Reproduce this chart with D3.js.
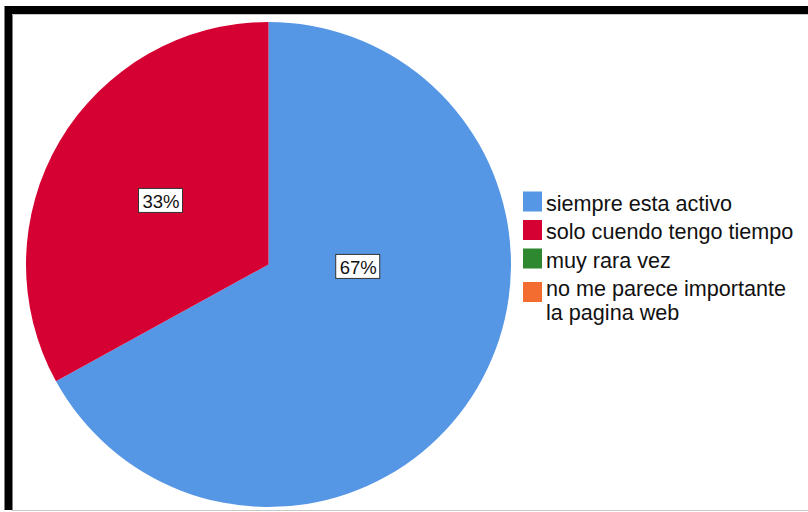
<!DOCTYPE html>
<html>
<head>
<meta charset="utf-8">
<script src="https://cdn.jsdelivr.net/npm/d3@7"></script>
<style>
  html, body { margin: 0; padding: 0; background: #fff; }
  svg { display: block; }
  text { font-family: "Liberation Sans", Arial, sans-serif; fill: #111; }
</style>
</head>
<body>
<svg id="chart" width="808" height="512"></svg>
<script>
// Response categories and their share of answers (percent)
const categories = [
  "siempre esta activo",
  "solo cuendo tengo tiempo",
  "muy rara vez",
  "no me parece importante la pagina web"
];
const legendLines = [
  ["siempre esta activo"],
  ["solo cuendo tengo tiempo"],
  ["muy rara vez"],
  ["no me parece importante", "la pagina web"]
];
const percents = [67, 33, 0, 0];
const colors = ["#5597e5", "#d40132", "#2d882f", "#f26d2f"];

const W = 808, H = 512;
const svg = d3.select("#chart");

// Frame: heavy black edge on the left and top, thin grey inner rule
svg.append("path")
  .attr("d", "M8.5,510 V10 H808")
  .attr("fill", "none")
  .attr("stroke", "#000")
  .attr("stroke-width", 8);
svg.append("line").attr("x1", 12).attr("x2", W).attr("y1", 14.5).attr("y2", 14.5)
  .attr("stroke", "#c8c8c8").attr("stroke-width", 1);
svg.append("line").attr("x1", 12).attr("x2", W).attr("y1", 510.5).attr("y2", 510.5)
  .attr("stroke", "#c8c8c8").attr("stroke-width", 1);

const cx = 268.5, cy = 264.5, radius = 242.5;

const color = d3.scaleOrdinal().domain(categories).range(colors);
const data = categories.map((c, i) => ({ cat: c, value: percents[i] }));

const pie = d3.pie().sort(null).value(d => d.value);
const arcs = pie(data);
const arc = d3.arc().innerRadius(0).outerRadius(radius);

const g = svg.append("g").attr("transform", `translate(${cx},${cy})`);
g.selectAll("path.slice")
  .data(arcs.filter(a => a.data.value > 0))
  .join("path")
  .attr("class", "slice")
  .attr("d", arc)
  .attr("fill", d => color(d.data.cat));

// Percentage labels in boxed callouts; large slices are anchored nearer the centre
const labelArc = d3.arc().innerRadius(radius * 0.515).outerRadius(radius * 0.515);
function labelPos(a) {
  const span = a.endAngle - a.startAngle;
  if (span > Math.PI) return [radius * 0.37, radius * 0.01];
  return labelArc.centroid(a);
}
const labels = g.selectAll("g.lbl")
  .data(arcs.filter(a => a.data.value > 0))
  .join("g")
  .attr("class", "lbl")
  .attr("transform", d => { const p = labelPos(d); return `translate(${p[0]},${p[1]})`; });
labels.each(function(d) {
  const sel = d3.select(this);
  const t = sel.append("text")
    .attr("text-anchor", "middle")
    .attr("dy", "0.36em")
    .style("font-size", "18.5px")
    .text(Math.round(d.data.value) + "%");
  const bb = t.node().getBBox();
  sel.insert("rect", "text")
    .attr("x", -Math.round(bb.width / 2) - 3.5)
    .attr("y", -12.5)
    .attr("width", Math.round(bb.width) + 7)
    .attr("height", 24)
    .attr("fill", "#fff")
    .attr("stroke", "#333")
    .attr("stroke-width", 1);
});

// Legend
const lx = 523, tx = 546, lineH = 23.5, gap = 5;
let y = 191.5;
const legend = svg.append("g");
legendLines.forEach((lines, i) => {
  const row = legend.append("g");
  row.append("rect")
    .attr("x", lx).attr("y", y + (lines.length - 1) * 5)
    .attr("width", 19).attr("height", 20)
    .attr("fill", color(categories[i]));
  lines.forEach((s, j) => {
    row.append("text")
      .attr("x", tx)
      .attr("y", y + 19 + j * lineH)
      .style("font-size", "21.6px")
      .text(s);
  });
  y += lines.length * lineH + gap;
});
</script>
</body>
</html>
